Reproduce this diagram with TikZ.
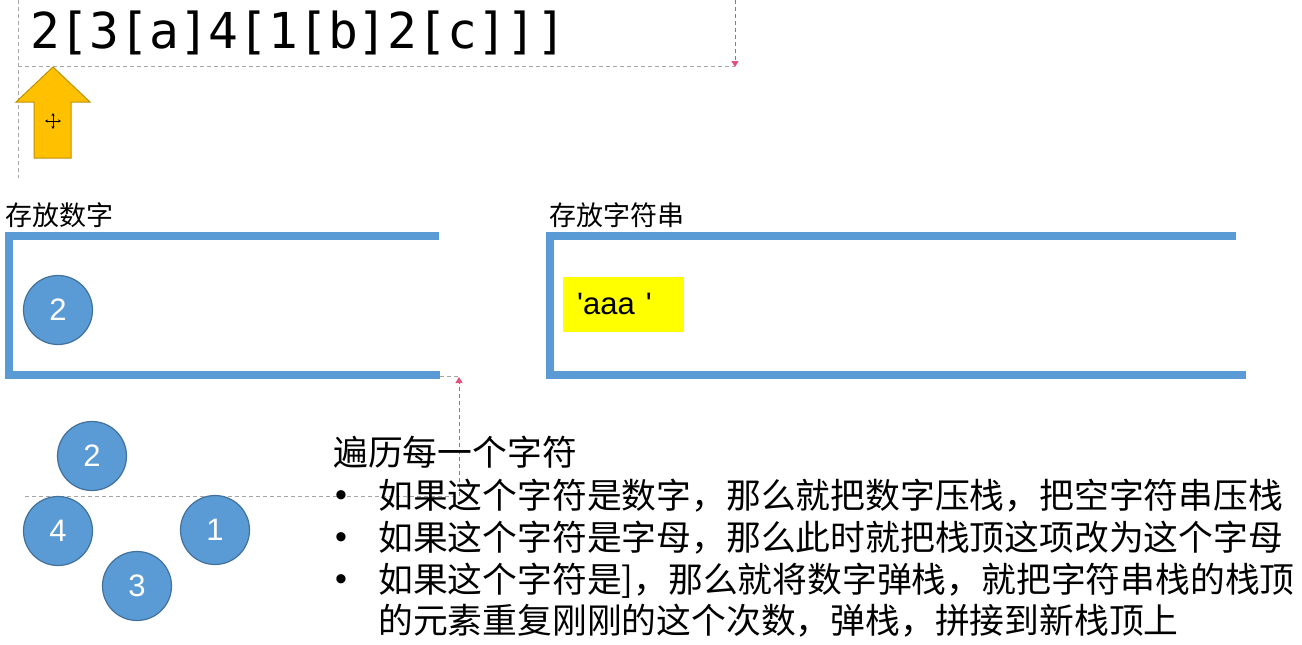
\documentclass[tikz,border=0pt]{standalone}
\usepackage{fontspec}
\setmainfont{Liberation Sans}
\newfontfamily\cjk{Noto Sans CJK SC}
\newfontfamily\monofnt{DejaVu Sans Mono}
\newfontfamily\arialq{Liberation Sans}[Ligatures=TeXOff]
\usetikzlibrary{arrows.meta}
\definecolor{stackblue}{HTML}{5B9BD5}
\definecolor{circblue}{HTML}{5B9BD5}
\definecolor{circline}{HTML}{41719C}
\definecolor{arrowfill}{HTML}{FFC000}
\definecolor{arrowline}{HTML}{BF9000}
\definecolor{guidegray}{HTML}{A6A6A6}
\definecolor{guidepink}{HTML}{E0507A}
\definecolor{hl}{HTML}{FFFF00}
\begin{document}
\begin{tikzpicture}[x=1pt,y=-1pt,
  num/.style={circle,draw=circline,line width=1.2pt,fill=circblue,minimum size=69pt,inner sep=0pt,text=white,font=\fontsize{31}{31}\selectfont},
  stackline/.style={draw=stackblue,line width=8pt},
  guide/.style={draw=guidegray,line width=0.8pt,dash pattern=on 4pt off 3pt},
  pguide/.style={draw=guidepink,line width=0.8pt,dash pattern=on 4pt off 3pt},
  pink tip/.style={-{Triangle[length=6pt,width=7pt]}},
  cjktext/.style={anchor=base west,inner sep=0pt,font=\cjk\fontsize{34.8}{34.8}\selectfont},
  stacklabel/.style={anchor=base west,inner sep=0pt,font=\cjk\fontsize{27}{27}\selectfont},
  bulletmark/.style={anchor=base,inner sep=0pt,font=\fontsize{34}{34}\selectfont},
  cursorarrow/.style={draw=black,line width=0.8pt,-{Stealth[length=3pt,width=3pt]}},
]
\useasboundingbox (0,0) rectangle (1302,645);
\fill[white] (0,0) rectangle (1302,645);

% guides (top)
\coordinate (gv1) at (18,0);
\coordinate (gv2) at (18,178);
\coordinate (gh1) at (18,66);
\coordinate (gh2) at (735,66);
\coordinate (pv1) at (735,0);
\coordinate (pv2) at (735,67);
\draw[guide] (gv1) -- (gv2);
\draw[guide] (gh1) -- (gh2);
\draw[pguide,pink tip] (pv1) -- (pv2);

% expression
\node[anchor=base west,inner sep=0pt,font=\monofnt\fontsize{49.5}{49.5}\selectfont] (expr) at (30,48) {2[3[a]4[1[b]2[c]]]};

% yellow pointer arrow
\filldraw[fill=arrowfill,draw=arrowline,line width=1pt]
  (53,67) -- (90,102) -- (71,102) -- (71,158) -- (34,158) -- (34,102) -- (16,102) -- cycle;
\coordinate (cur) at (53,121);
\draw[cursorarrow] (cur) -- ++(0,-8);
\draw[cursorarrow] (cur) -- ++(0,8);
\draw[cursorarrow] (cur) -- ++(-8,0);
\draw[cursorarrow] (cur) -- ++(8,0);

% stack labels
\node[stacklabel] (numlbl) at (5,225) {存放数字};
\node[stacklabel] (strlbl) at (549,225) {存放字符串};

% stacks
\draw[stackline] (439,236) -- (9,236) -- (9,375) -- (440,375);
\draw[stackline] (1236,236) -- (550,236) -- (550,375) -- (1246,375);

\node[num] (s2) at (58,310) {2};
\node[fill=hl,minimum width=121pt,minimum height=55pt,inner sep=0pt] (topbox) at (623,304.5) {};
\node[anchor=base west,inner sep=0pt,font=\arialq\fontsize{31}{31}\selectfont] (toptext) at (577,314) {'aaa\hspace{11pt}'};

% lower guides
\coordinate (lh1) at (25,496);
\coordinate (lh2) at (459,496);
\coordinate (sh1) at (440,376);
\coordinate (sh2) at (459,376);
\coordinate (lp1) at (459,496);
\coordinate (lp2) at (459,377);
\draw[guide] (lh1) -- (lh2);
\draw[guide] (sh1) -- (sh2);
\draw[pguide,pink tip] (lp1) -- (lp2);

% loose circles
\node[num] (c2) at (92,456) {2};
\node[num] (c4) at (58,531) {4};
\node[num] (c1) at (215,530) {1};
\node[num] (c3) at (137,586) {3};

% text block
\node[cjktext] (head) at (333,465) {遍历每一个字符};
\node[bulletmark] (b1) at (341,506) {•};
\node[bulletmark] (b2) at (341,548) {•};
\node[bulletmark] (b3) at (341,590) {•};
\node[cjktext] (l1) at (378,508) {如果这个字符是数字，那么就把数字压栈，把空字符串压栈};
\node[cjktext] (l2) at (378,550) {如果这个字符是字母，那么此时就把栈顶这项改为这个字母};
\node[cjktext] (l3) at (378,592) {如果这个字符是]，那么就将数字弹栈，就把字符串栈的栈顶};
\node[cjktext] (l4) at (378,633) {的元素重复刚刚的这个次数，弹栈，拼接到新栈顶上};
\end{tikzpicture}
\end{document}
